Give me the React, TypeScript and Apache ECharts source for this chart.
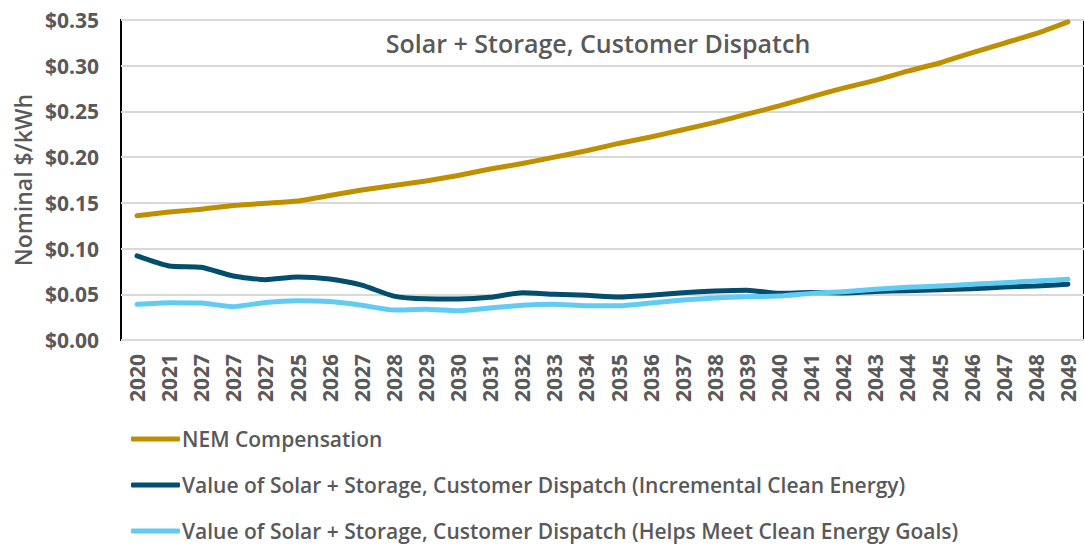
import React, { useEffect, useRef } from "react";
import * as echarts from "echarts";

const categories = [
  "2020", "2021", "2027", "2027", "2027", "2025", "2026", "2027", "2028", "2029",
  "2030", "2031", "2032", "2033", "2034", "2035", "2036", "2037", "2038", "2039",
  "2040", "2041", "2042", "2043", "2044", "2045", "2046", "2047", "2048", "2049",
];

const nemCompensation = [
  0.136, 0.140, 0.143, 0.147, 0.1495, 0.152, 0.158, 0.164, 0.169, 0.174,
  0.180, 0.187, 0.193, 0.200, 0.207, 0.215, 0.222, 0.230, 0.238, 0.247,
  0.256, 0.266, 0.2755, 0.284, 0.294, 0.303, 0.314, 0.3245, 0.335, 0.348,
];

const valueIncremental = [
  0.092, 0.081, 0.0795, 0.070, 0.066, 0.069, 0.0667, 0.060, 0.048, 0.045,
  0.0448, 0.0467, 0.0518, 0.050, 0.0489, 0.047, 0.0489, 0.0518, 0.0536, 0.0545,
  0.051, 0.052, 0.0515, 0.053, 0.054, 0.055, 0.056, 0.058, 0.059, 0.061,
];

const valueHelpsGoals = [
  0.039, 0.0408, 0.0404, 0.0365, 0.041, 0.043, 0.042, 0.038, 0.0328, 0.0335,
  0.032, 0.035, 0.038, 0.039, 0.0375, 0.0375, 0.0405, 0.0437, 0.046, 0.0474,
  0.048, 0.051, 0.0529, 0.0555, 0.0576, 0.059, 0.061, 0.0627, 0.0645, 0.0664,
];

const seriesNames = [
  "NEM Compensation",
  "Value of Solar + Storage, Customer Dispatch (Incremental Clean Energy)",
  "Value of Solar + Storage, Customer Dispatch (Helps Meet Clean Energy Goals)",
];

const colors = ["#BF8F00", "#034E6E", "#61CBF4"];
const FONT = "Open Sans";
const GRAY = "#595959";
const legendRowsTop = [428, 474, 520];

export default function App() {
  const ref = useRef<HTMLDivElement>(null);
  useEffect(() => {
    if (!ref.current) return;
    const chart = echarts.init(ref.current, null, { renderer: "svg" });
    const dataSets = [nemCompensation, valueIncremental, valueHelpsGoals];
    chart.setOption({
      animation: false,
      color: colors,
      textStyle: { fontFamily: FONT },
      title: {
        text: "Solar + Storage, Customer Dispatch",
        left: 593,
        top: 25,
        textAlign: "center",
        textStyle: { fontFamily: FONT, fontSize: 25, fontWeight: 600, color: GRAY },
      },
      grid: {
        left: 121,
        top: 20,
        width: 972,
        bottom: 206,
        show: true,
        borderColor: "#000",
        borderWidth: 2,
        backgroundColor: "transparent",
      },
      legend: seriesNames.map((name, i) => ({
        orient: "horizontal",
        left: 131,
        top: legendRowsTop[i],
        padding: 0,
        itemWidth: 49,
        itemHeight: 5,
        itemGap: 0,
        icon: "roundRect",
        data: [name],
        selectedMode: false,
        textStyle: { fontFamily: FONT, fontSize: 21, fontWeight: 600, color: GRAY, lineHeight: 22, padding: [0, 0, 0, -3] },
      })),
      xAxis: {
        type: "category",
        data: categories,
        boundaryGap: true,
        axisLine: { show: false },
        axisTick: { show: false },
        axisLabel: {
          rotate: 90,
          interval: 0,
          margin: 14,
          fontFamily: FONT,
          fontSize: 21,
          fontWeight: "bold",
          color: GRAY,
        },
      },
      yAxis: {
        type: "value",
        min: 0,
        max: 0.35,
        interval: 0.05,
        name: "Nominal $/kWh",
        nameLocation: "middle",
        nameGap: 86,
        nameTextStyle: { fontFamily: FONT, fontSize: 23, fontWeight: 600, color: GRAY },
        axisLine: { show: false },
        axisTick: { show: false },
        splitLine: { lineStyle: { color: "#D9D9D9", width: 2 } },
        axisLabel: {
          margin: 22,
          fontFamily: FONT,
          fontSize: 21,
          fontWeight: "bold",
          color: GRAY,
          formatter: (v: number) => "$" + v.toFixed(2),
        },
      },
      series: seriesNames.map((name, i) => ({
        name,
        type: "line",
        data: dataSets[i],
        symbol: "none",
        smooth: 0.2,
        lineStyle: { width: 5, color: colors[i], cap: "round", join: "round" },
        itemStyle: { color: colors[i] },
      })),
    });
    return () => chart.dispose();
  }, []);
  return (
    <div
      ref={ref}
      style={{ position: "absolute", left: 0, top: 0, width: 1084, height: 546 }}
    />
  );
}
